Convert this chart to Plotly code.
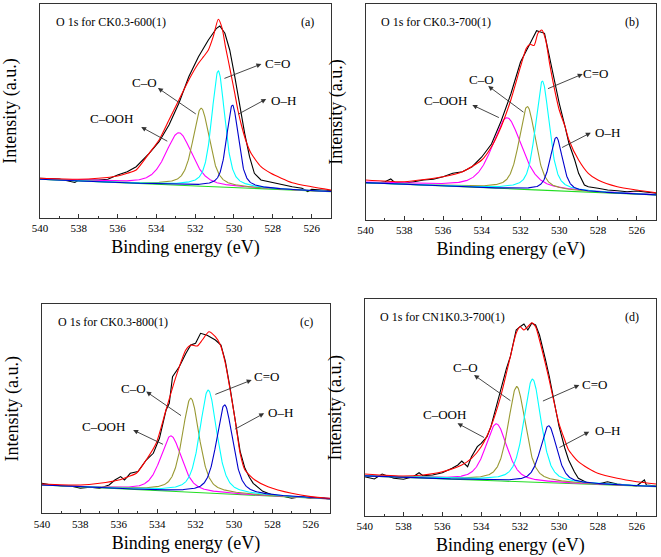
import numpy as np
import plotly.graph_objects as go

# ---------------- data ----------------
panel_titles = ["O 1s for CK0.3-600(1)", "O 1s for CK0.3-700(1)",
                "O 1s for CK0.3-800(1)", "O 1s for CN1K0.3-700(1)"]
panel_tags = ["(a)", "(b)", "(c)", "(d)"]
component_labels = ["C\u2013OOH", "C\u2013O", "C=O", "O\u2013H"]
x_ticks = [540, 538, 536, 534, 532, 530, 528, 526]
x_axis_title = "Binding energy (eV)"
y_axis_title = "Intensity (a.u.)"

# experimental spectra (binding energy in eV, intensity in a.u.)
raw_E_a = [540, 539, 538.2, 538, 537, 536.5, 536, 535.5, 535.04, 534.37, 533.86, 533.35, 532.84, 532.33,
           531.83, 531.32, 530.9, 530.73, 530.47, 530.22, 529.96, 529.71, 529.45, 529.2, 528.95, 528.61,
           528, 527.5, 527, 526.5, 526.2, 526, 525.5, 525]
raw_I_a = [39.7, 39, 35.5, 38, 38, 38.7, 43, 46.3, 51.3, 64.7, 76.3, 93, 114.7, 141.3,
           161.3, 178, 189.7, 192, 184.7, 168, 141.3, 111.3, 84.7, 61.3, 44.7, 38,
           35.3, 33, 31.3, 29.7, 26.5, 28.7, 28, 27.3]

raw_E_b = [540, 539.5, 539, 538.7, 538.5, 538, 537.5, 537, 536.5, 536, 535.5, 535, 534.5, 534, 533.5,
           533, 532.5, 532, 531.5, 531.17, 530.76, 530.5, 530.2, 530, 529.7, 529.5, 529.2, 529, 528.7,
           528.5, 528, 527.5, 527, 526.5, 526, 525.5, 525]
raw_I_b = [37.3, 36.7, 38.3, 41, 37.7, 36.7, 38.3, 40, 40.7, 43.3, 46.7, 48.3, 53.3, 63, 76,
           99, 126, 158, 176.7, 189.3, 186.7, 163, 136.7, 116.7, 93.3, 76.7, 60, 46.7, 35,
           33.3, 31.7, 30, 29.3, 28.3, 29, 27.7, 26.7]

raw_E_c = [540, 539.5, 539, 538.5, 538, 537.5, 537, 536.5, 536.2, 535.9, 535.7, 535.4, 535, 534.57,
           534.2, 533.88, 533.54, 533.37, 533.2, 532.85, 532.5, 532.25, 532, 531.74, 531.4, 530.97,
           530.68, 530.56, 530.45, 530.2, 529.94, 529.68, 529.43, 529.2, 529, 528.5, 528, 527.5,
           527, 526.5, 526, 525.5, 525]
raw_I_c = [30, 28.3, 27.7, 27.3, 25, 26, 25, 28.3, 33.3, 36.7, 33.3, 40, 41.7, 53.3,
           60, 75, 103, 110, 136.6, 146.6, 160, 168.3, 170, 180, 178, 173.3,
           168.3, 160, 152, 125, 95, 62, 45, 36, 30, 22, 18.3, 17.3,
           15, 16.7, 15, 15.7, 14]

raw_E_d = [540, 539.5, 539.1, 538.5, 538, 537.5, 537.2, 537, 536.5, 536, 535.5, 535.2, 535, 534.7,
           534.5, 534.2, 534, 533.7, 533.5, 533, 532.7, 532.5, 532.2, 532, 531.8, 531.6, 531.4, 531.2,
           531, 530.7, 530.5, 530.2, 530, 529.7, 529.5, 529.2, 529, 528.5, 528, 527.5, 527, 526.5,
           526, 525.6, 525.5, 525]
raw_I_d = [39.3, 37, 42, 37.7, 36.7, 39.3, 43.3, 40.3, 41, 43.3, 47.7, 51, 55, 49.3,
           59.3, 69.3, 72.7, 79.3, 89.3, 126, 147.7, 159.3, 186, 189.3, 192, 186, 192.7, 191,
           181, 157, 140, 110, 90, 68, 56, 44, 37.7, 32.7, 32, 34.3, 32, 31,
           30, 36, 31, 30]

# fitted envelope (red)
env_E_a = [540, 538, 537, 536, 535.5, 535.04, 534.37, 533.86, 533.35, 532.84, 532.33, 531.83, 531.57,
           531.32, 531.07, 530.81, 530.61, 530.44, 530.3, 530.13, 529.96, 529.8, 529.62, 529.37,
           529.12, 528.61, 528.1, 527, 526, 525]
env_I_a = [39.7, 38.7, 39.7, 42, 44.7, 48, 64.7, 78, 98, 118, 138, 154.7, 161.3,
           168, 181.3, 198.7, 189.7, 171.3, 158, 141.3, 124.7, 108, 93, 76.3,
           64.7, 51.3, 44.7, 35.3, 31.3, 28]

env_E_b = [540, 538, 536, 535, 534, 533.5, 533, 532.5, 532, 531.7, 531.5, 531.3, 531.1, 530.9, 530.7,
           530.5, 530.2, 530, 529.7, 529.5, 529, 528.5, 528, 527, 526, 525]
env_I_b = [40, 38.3, 43.3, 48.3, 60, 73.3, 93.3, 120, 153.3, 171.7, 175.7, 174.5, 186.7, 190, 180,
           156.7, 126.7, 110, 93.3, 80, 60, 46.7, 40, 33.3, 30, 27.3]

env_E_c = [540, 538, 537, 536, 535.5, 535.08, 534.57, 534.05, 533.54, 533.02, 532.51, 532.25, 531.91,
           531.65, 531.31, 530.97, 530.71, 530.45, 530.2, 529.94, 529.68, 529.43, 528.91, 528.23,
           527, 526, 525]
env_I_c = [29.3, 28.3, 30, 33.3, 36.7, 40, 53.3, 70, 103.3, 136.6, 163.3, 168.3, 167.3,
           173.3, 181.6, 176.6, 168.3, 150, 123.3, 93.3, 60, 43.3, 33.3, 26.6,
           20, 16.7, 15]

env_E_d = [540, 538, 537, 536, 535, 534.5, 534, 533.5, 533, 532.5, 532.2, 532, 531.8, 531.6, 531.4,
           531.2, 531, 530.7, 530.5, 530.2, 530, 529.7, 529.5, 529, 528.5, 528, 527, 526, 525]
env_I_d = [42, 40, 41, 44.3, 51, 57.7, 69.3, 89.3, 119.3, 159.3, 182.7, 189.3, 186, 189.3, 193.3,
           189.3, 176, 152.7, 136, 109.3, 92.7, 76, 66, 54.3, 47.7, 42.7, 37.7, 34.3, 32]

# fitted components, order: C-OOH, C-O, C=O, O-H  (centre eV, height above background, FWHM eV)
centers_a = [532.84, 531.69, 530.81, 530.08]
heights_a = [52.5, 78, 116, 82.5]
fwhms_a = [1.6, 1.0, 0.8, 0.72]
baseline_a = [38.7, 26.3]          # linear background at 540 eV and 525 eV

centers_b = [532.70, 531.65, 530.87, 530.15]
heights_b = [71, 83, 109, 53.5]
fwhms_b = [1.8, 1.0, 0.85, 0.75]
baseline_b = [37.3, 25.0]

centers_c = [533.28, 532.25, 531.34, 530.49]
heights_c = [55.4, 94, 103, 89]
fwhms_c = [1.3, 1.05, 1.05, 1.0]
baseline_c = [28.3, 14.3]

centers_d = [533.22, 532.17, 531.36, 530.53]
heights_d = [57, 95, 103, 57]
fwhms_d = [1.3, 1.05, 1.05, 1.0]
baseline_d = [40.0, 29.3]

# annotation positions in data units: (label E, label I, arrow tail E, tail I, arrow head E, head I)
notes_a = [(536.3, 100, 533.36, 76, 534.78, 91), (534.63, 136, 531.89, 103, 533.92, 130),
           (527.75, 155, 530.57, 139, 528.59, 154), (527.45, 118, 529.86, 103, 528.34, 119)]
notes_b = [(535.85, 120, 533.04, 101.7, 534.49, 115), (534.0, 141, 531.77, 106.7, 533.67, 134),
           (528.15, 146.7, 530.66, 130.7, 528.79, 146), (527.5, 87.3, 529.93, 71.7, 528.37, 87.3)]
notes_c = [(536.79, 86.7, 533.62, 68.3, 535.25, 83.3), (535.25, 125, 532.68, 96.7, 534.57, 121.7),
           (528.3, 136.7, 531.05, 118.3, 529.08, 133.3), (527.6, 100.7, 530.03, 83.3, 528.43, 100)]
notes_d = [(535.9, 102, 533.78, 77.7, 535.22, 92.7), (534.8, 148.7, 532.42, 114.3, 534.37, 141),
           (528.15, 132, 530.9, 114.3, 528.95, 131), (527.5, 85.3, 530.05, 67.7, 528.44, 84.3)]

# ---------------- styles / layout ----------------
W, H = 661, 557
# plot boxes in pixels: left, right, top, bottom
boxes = [(32.3, 327, 4, 218), (362, 656, 4, 220), (34.3, 326, 304, 513.3), (361, 656, 299.3, 516)]
comp_colors = ["#FF00FF", "#999933", "#00FFFF", "#0000CC"]
FONT = "Liberation Serif, Times New Roman, serif"

raw_E = [raw_E_a, raw_E_b, raw_E_c, raw_E_d]
raw_I = [raw_I_a, raw_I_b, raw_I_c, raw_I_d]
env_E = [env_E_a, env_E_b, env_E_c, env_E_d]
env_I = [env_I_a, env_I_b, env_I_c, env_I_d]
centers = [centers_a, centers_b, centers_c, centers_d]
heights = [heights_a, heights_b, heights_c, heights_d]
fwhms = [fwhms_a, fwhms_b, fwhms_c, fwhms_d]
baselines = [baseline_a, baseline_b, baseline_c, baseline_d]
notes = [notes_a, notes_b, notes_c, notes_d]

grid = np.linspace(540, 525, 751)
ETA = 0.5   # Lorentzian fraction of the pseudo-Voigt line shape


def pv(x, c, h, w):
    lor = 1.0 / (1.0 + (2.0 * (x - c) / w) ** 2)
    gau = np.exp(-4.0 * np.log(2.0) * ((x - c) / w) ** 2)
    return h * (ETA * lor + (1 - ETA) * gau)


fig = go.Figure()
annotations = []
layout = {}

for i in range(4):
    ax_id = "" if i == 0 else str(i + 1)
    xa, ya = "x" + ax_id, "y" + ax_id
    l, r, t, b = boxes[i]
    bg = baselines[i][0] + (baselines[i][1] - baselines[i][0]) * (540 - grid) / 15.0

    fig.add_trace(go.Scatter(x=raw_E[i], y=raw_I[i], mode="lines", xaxis=xa, yaxis=ya,
                             line=dict(color="black", width=1.1), showlegend=False))
    fig.add_trace(go.Scatter(x=grid, y=bg, mode="lines", xaxis=xa, yaxis=ya,
                             line=dict(color="#22DD22", width=1.1), showlegend=False))
    for k in range(4):
        comp = pv(grid, centers[i][k], heights[i][k], fwhms[i][k])
        fig.add_trace(go.Scatter(x=grid, y=bg + comp, mode="lines", xaxis=xa, yaxis=ya,
                                 line=dict(color=comp_colors[k], width=1.1), showlegend=False))
    fig.add_trace(go.Scatter(x=env_E[i], y=env_I[i], mode="lines", xaxis=xa, yaxis=ya,
                             line=dict(color="#FF0000", width=1.1, shape="spline", smoothing=0.6),
                             showlegend=False))

    ymax = b - t
    layout["xaxis" + ax_id] = dict(
        domain=[l / W, r / W], range=[540, 525], anchor=ya,
        tickmode="array", tickvals=x_ticks, ticks="inside", ticklen=4, tickwidth=1,
        tickcolor="#333333",
        minor=dict(dtick=1, ticks="inside", ticklen=2, tickcolor="#333333", showgrid=False),
        showline=True, linecolor="#333333", linewidth=1, mirror=True,
        showgrid=False, zeroline=False,
        tickfont=dict(family=FONT, size=11, color="black"),
        title=dict(text=x_axis_title, font=dict(family=FONT, size=18, color="black"), standoff=7),
    )
    layout["yaxis" + ax_id] = dict(
        domain=[1 - b / H, 1 - t / H], range=[0, ymax], anchor=xa,
        showticklabels=False, ticks="", showline=True, linecolor="#333333", linewidth=1,
        mirror=True, showgrid=False, zeroline=False,
        title=dict(text=y_axis_title, font=dict(family=FONT, size=18, color="black"), standoff=17),
    )

    # panel title and tag
    annotations.append(dict(text=panel_titles[i], xref="paper", yref="paper",
                            x=(l + 14) / W, y=1 - (t + 18) / H, xanchor="left", yanchor="middle",
                            showarrow=False, font=dict(family=FONT, size=12, color="black")))
    annotations.append(dict(text=panel_tags[i], xref="paper", yref="paper",
                            x=(r - 24) / W, y=1 - (t + 18) / H, xanchor="center", yanchor="middle",
                            showarrow=False, font=dict(family=FONT, size=12, color="black")))
    for k in range(4):
        le, li, te, ti, he, hi = notes[i][k]
        annotations.append(dict(text="", x=he, y=hi, ax=te, ay=ti, xref=xa, yref=ya,
                                axref=xa, ayref=ya, showarrow=True, arrowhead=2, arrowsize=1.1,
                                arrowwidth=0.9, arrowcolor="#333333"))
        annotations.append(dict(text=component_labels[k], x=le, y=li, xref=xa, yref=ya,
                                showarrow=False, xanchor="center", yanchor="middle",
                                font=dict(family=FONT, size=13, color="black")))

fig.update_layout(width=W, height=H, margin=dict(l=0, r=0, t=0, b=0),
                  paper_bgcolor="white", plot_bgcolor="white",
                  annotations=annotations, **layout)
fig.write_html("out.html")
